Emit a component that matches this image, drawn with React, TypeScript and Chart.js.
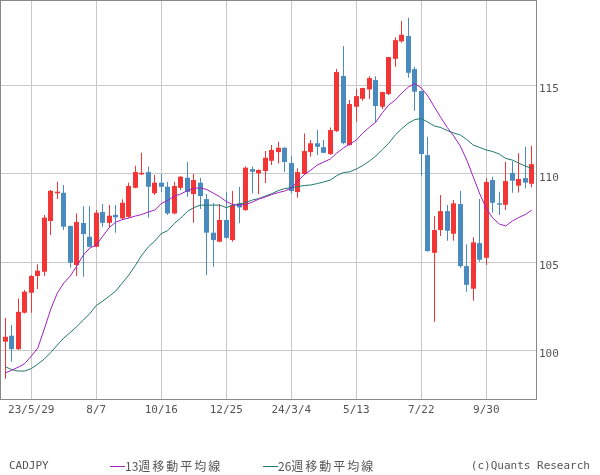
import React, { useEffect, useRef } from 'react';
import { Chart, registerables } from 'chart.js';

Chart.register(...registerables);

// Weekly CADJPY, weeks from 2023/5/1 to 2024/11/18 (index = week number)
const opens = [100.49, 100.83, 100.07, 102.13, 103.26, 104.21, 104.45, 107.32, 108.89, 108.92, 107.04, 104.83, 107.21, 106.43, 105.86, 107.83, 107.22, 107.67, 107.47, 107.56, 109.2, 109.96, 110.09, 108.89, 109.49, 109.26, 107.75, 109.2, 109.77, 108.85, 109.49, 108.56, 106.66, 106.15, 107.38, 106.24, 108.32, 107.94, 110.26, 110.02, 110.15, 110.73, 111.22, 111.47, 110.6, 108.96, 109.98, 111.22, 111.72, 111.5, 111.11, 112.41, 115.53, 111.62, 113.79, 114.24, 114.77, 115.3, 113.79, 114.51, 116.5, 117.49, 117.79, 115.92, 114.68, 111.05, 105.52, 106.81, 107.88, 106.6, 108.28, 104.77, 103.49, 106.07, 105.24, 109.64, 108.32, 108.24, 110.04, 109.32, 109.75, 109.43];
const highs = [101.85, 101.43, 102.94, 103.41, 104.26, 104.88, 107.66, 109.07, 109.54, 109.36, 107.06, 107.75, 108.15, 108.17, 107.94, 108.28, 108.22, 108.22, 108.55, 109.49, 110.45, 111.18, 110.39, 109.92, 109.98, 109.53, 109.54, 109.85, 110.66, 109.98, 109.77, 108.85, 108.32, 108.28, 108.96, 109.02, 109.26, 110.4, 110.39, 110.25, 111.28, 111.62, 111.81, 111.5, 111.0, 110.3, 112.28, 111.9, 112.47, 111.9, 112.62, 115.92, 117.22, 114.17, 114.79, 114.87, 115.52, 115.52, 114.64, 116.62, 117.72, 118.64, 118.83, 116.05, 114.7, 112.09, 107.6, 108.79, 108.22, 108.51, 109.02, 106.0, 106.4, 108.56, 109.74, 109.83, 108.98, 110.67, 110.71, 111.15, 111.52, 111.58];
const lows = [98.39, 99.35, 100.02, 102.09, 102.13, 103.47, 104.21, 106.53, 108.56, 106.81, 104.68, 104.21, 104.17, 105.84, 105.83, 107.0, 106.96, 106.66, 107.38, 107.49, 109.17, 109.92, 107.51, 108.79, 108.96, 107.66, 107.7, 109.07, 108.69, 107.22, 108.0, 104.26, 104.73, 106.12, 106.3, 106.15, 107.19, 107.9, 108.89, 108.83, 109.47, 110.49, 110.58, 110.09, 108.89, 108.64, 109.92, 110.96, 111.05, 111.15, 111.05, 112.36, 111.67, 111.6, 112.94, 114.13, 114.22, 112.9, 113.66, 114.45, 116.05, 117.41, 115.43, 113.56, 109.88, 105.58, 101.62, 106.47, 106.2, 106.2, 104.68, 103.32, 102.81, 105.01, 104.83, 107.79, 107.66, 107.94, 108.92, 108.94, 109.17, 109.23];
const closes = [100.77, 100.07, 102.18, 103.32, 104.21, 104.51, 107.51, 109.03, 108.98, 107.0, 104.96, 107.26, 106.58, 105.86, 107.79, 107.22, 107.62, 107.53, 108.35, 109.3, 110.09, 110.05, 109.26, 109.49, 109.26, 107.75, 109.3, 109.83, 108.96, 109.64, 108.73, 106.66, 106.24, 107.38, 106.37, 108.22, 108.09, 110.34, 110.11, 110.21, 110.9, 111.34, 111.47, 110.66, 109.02, 110.09, 111.28, 111.72, 111.52, 111.18, 112.47, 115.75, 111.73, 113.94, 114.39, 114.85, 115.41, 113.83, 114.62, 116.6, 117.56, 117.86, 115.71, 114.64, 111.11, 105.62, 106.81, 107.88, 106.77, 108.32, 104.77, 103.71, 106.11, 105.13, 109.53, 108.35, 108.24, 109.58, 109.6, 109.7, 109.49, 110.54];

// 13-week moving average (purple)
const ma13 = [98.72, 98.88, 99.05, 99.25, 99.68, 100.13, 101.21, 102.34, 103.24, 103.81, 104.21, 104.77, 105.39, 105.79, 105.96, 106.47, 106.95, 107.26, 107.4, 107.49, 107.6, 107.69, 107.83, 107.94, 108.31, 108.48, 108.73, 108.85, 109.04, 109.16, 109.2, 109.1, 108.9, 108.7, 108.42, 108.25, 108.22, 108.25, 108.39, 108.56, 108.68, 108.82, 108.93, 109.02, 109.19, 109.58, 109.95, 110.2, 110.49, 110.66, 110.83, 111.17, 111.45, 111.68, 111.9, 112.3, 112.62, 112.92, 113.44, 113.89, 114.17, 114.56, 114.9, 115.1, 114.85, 114.4, 113.78, 113.18, 112.61, 112.13, 111.56, 110.77, 109.81, 108.85, 108.03, 107.49, 107.15, 107.04, 107.32, 107.52, 107.69, 107.94];
// 26-week moving average (teal)
const ma26 = [99.07, 98.91, 98.83, 98.83, 98.97, 99.22, 99.51, 99.88, 100.3, 100.7, 101.01, 101.35, 101.71, 102.08, 102.54, 102.79, 103.07, 103.36, 103.81, 104.26, 104.8, 105.39, 105.85, 106.19, 106.61, 106.78, 107.18, 107.49, 107.86, 108.08, 108.22, 108.22, 108.22, 108.22, 108.08, 108.2, 108.28, 108.37, 108.51, 108.59, 108.73, 108.87, 109.04, 109.16, 109.21, 109.27, 109.33, 109.36, 109.44, 109.53, 109.64, 109.89, 110.06, 110.11, 110.26, 110.46, 110.71, 111.0, 111.37, 111.73, 112.19, 112.55, 112.86, 113.06, 113.12, 112.92, 112.7, 112.61, 112.44, 112.3, 112.19, 111.93, 111.62, 111.48, 111.34, 111.25, 111.11, 110.86, 110.77, 110.6, 110.43, 110.3];

const xTickIndex = [4, 14, 24, 34, 44, 54, 64, 74];
const xTickLabels = ['23/5/29', '8/7', '10/16', '12/25', '24/3/4', '5/13', '7/22', '9/30'];
const yTicks = [100, 105, 110, 115];

const RED = '#f43535';
const BLUE = '#4a8bbf';
const PURPLE = '#a020c0';
const TEAL = '#20786c';
const TEXT = '#555555';
const GRID = '#c8c8c8';
const MONO = '"DejaVu Sans Mono", monospace';

const framePlugin = {
  id: 'frame',
  beforeDatasetsDraw(chart: any) {
    // snap candle bars to whole pixels so bodies and wicks render crisp
    chart.data.datasets.forEach((ds: any, di: number) => {
      if (ds.type !== 'bar') return;
      const meta = chart.getDatasetMeta(di);
      meta.data.forEach((el: any) => {
        el.x = Math.floor(el.x) + 0.5;
      });
    });
  },
  afterDraw(chart: any) {
    const { ctx, chartArea } = chart;
    ctx.save();
    ctx.strokeStyle = '#888888';
    ctx.lineWidth = 1;
    const l = Math.round(chartArea.left) + 0.5;
    const t = Math.round(chartArea.top) + 0.5;
    const r = Math.round(chartArea.right) - 0.5;
    const b = Math.round(chartArea.bottom) - 0.5;
    ctx.strokeRect(l, t, r - l, b - t);
    ctx.restore();
  },
};

export default function App() {
  const ref = useRef<HTMLCanvasElement>(null);

  useEffect(() => {
    document.body.style.margin = '0';
    const colors = closes.map((c, i) => (c >= opens[i] ? RED : BLUE));
    const chart = new Chart(ref.current as HTMLCanvasElement, {
      type: 'bar',
      data: {
        datasets: [
          {
            type: 'line',
            data: ma13.map((y, i) => ({ x: i, y })),
            borderColor: PURPLE,
            borderWidth: 1,
            pointRadius: 0,
            tension: 0,
            order: 0,
          } as any,
          {
            type: 'line',
            data: ma26.map((y, i) => ({ x: i, y })),
            borderColor: TEAL,
            borderWidth: 1,
            pointRadius: 0,
            tension: 0,
            order: 0,
          } as any,
          {
            type: 'bar',
            data: highs.map((h, i) => ({ x: i, y: [lows[i], h] })),
            backgroundColor: colors,
            borderColor: colors,
            borderWidth: 0,
            barThickness: 1,
            grouped: false,
            inflateAmount: 0,
            order: 2,
          } as any,
          {
            type: 'bar',
            data: opens.map((o, i) => ({ x: i, y: [o, closes[i]] })),
            backgroundColor: colors,
            borderColor: colors,
            borderWidth: 0,
            barThickness: 5,
            grouped: false,
            inflateAmount: 0,
            order: 1,
          } as any,
        ],
      },
      options: {
        animation: false,
        responsive: false,
        events: [],
        layout: { padding: 0 },
        plugins: { legend: { display: false }, tooltip: { enabled: false } },
        scales: {
          x: {
            type: 'linear',
            min: -0.815,
            max: 81.8,
            offset: false,
            afterBuildTicks: (s: any) => {
              s.ticks = xTickIndex.map((v) => ({ value: v }));
            },
            afterFit: (s: any) => {
              s.height = 75;
              s.paddingLeft = 0;
              s.paddingRight = 0;
            },
            ticks: {
              callback: (v: any) => {
                const k = xTickIndex.indexOf(Number(v));
                return k >= 0 ? xTickLabels[k] : '';
              },
              font: { family: MONO, size: 11 },
              color: TEXT,
              padding: 4,
              autoSkip: false,
              maxRotation: 0,
            },
            grid: { color: GRID, lineWidth: 1, drawTicks: false, offset: false },
            border: { display: false },
          },
          y: {
            type: 'linear',
            position: 'right',
            min: 97.19,
            max: 119.83,
            afterBuildTicks: (s: any) => {
              s.ticks = yTicks.map((v) => ({ value: v }));
            },
            afterFit: (s: any) => {
              s.width = 63;
              s.paddingTop = 0;
              s.paddingBottom = 0;
            },
            ticks: {
              callback: (v: any) => String(v),
              font: { family: MONO, size: 11 },
              color: TEXT,
              padding: 2,
              labelOffset: 4,
            },
            grid: { color: GRID, lineWidth: 1, drawTicks: false },
            border: { display: false },
          },
        },
      } as any,
      plugins: [framePlugin],
    });
    return () => chart.destroy();
  }, []);

  const digitText: React.CSSProperties = {
    font: '12px "Noto Sans CJK JP", sans-serif',
    color: TEXT,
    lineHeight: '14px',
  };
  const kanjiText: React.CSSProperties = {
    ...digitText,
    letterSpacing: '2px',
  };

  return (
    <div style={{ position: 'relative', width: 600, height: 475, background: '#fff', overflow: 'hidden' }}>
      <canvas ref={ref} width={600} height={475} style={{ position: 'absolute', left: 0, top: 0, width: 600, height: 475 }} />
      <div style={{ position: 'absolute', left: 9, top: 459, font: `11px ${MONO}`, color: TEXT, lineHeight: '14px' }}>CADJPY</div>
      <div style={{ position: 'absolute', left: 110, top: 459, display: 'flex', alignItems: 'center' }}>
        <span style={{ display: 'inline-block', width: 15, height: 1, background: PURPLE }} />
        <span style={digitText}>13</span>
        <span style={kanjiText}>週移動平均線</span>
      </div>
      <div style={{ position: 'absolute', left: 263, top: 459, display: 'flex', alignItems: 'center' }}>
        <span style={{ display: 'inline-block', width: 15, height: 1, background: TEAL }} />
        <span style={digitText}>26</span>
        <span style={kanjiText}>週移動平均線</span>
      </div>
      <div style={{ position: 'absolute', right: 10, top: 459, font: `11px ${MONO}`, color: TEXT, lineHeight: '14px' }}>(c)Quants Research</div>
    </div>
  );
}
